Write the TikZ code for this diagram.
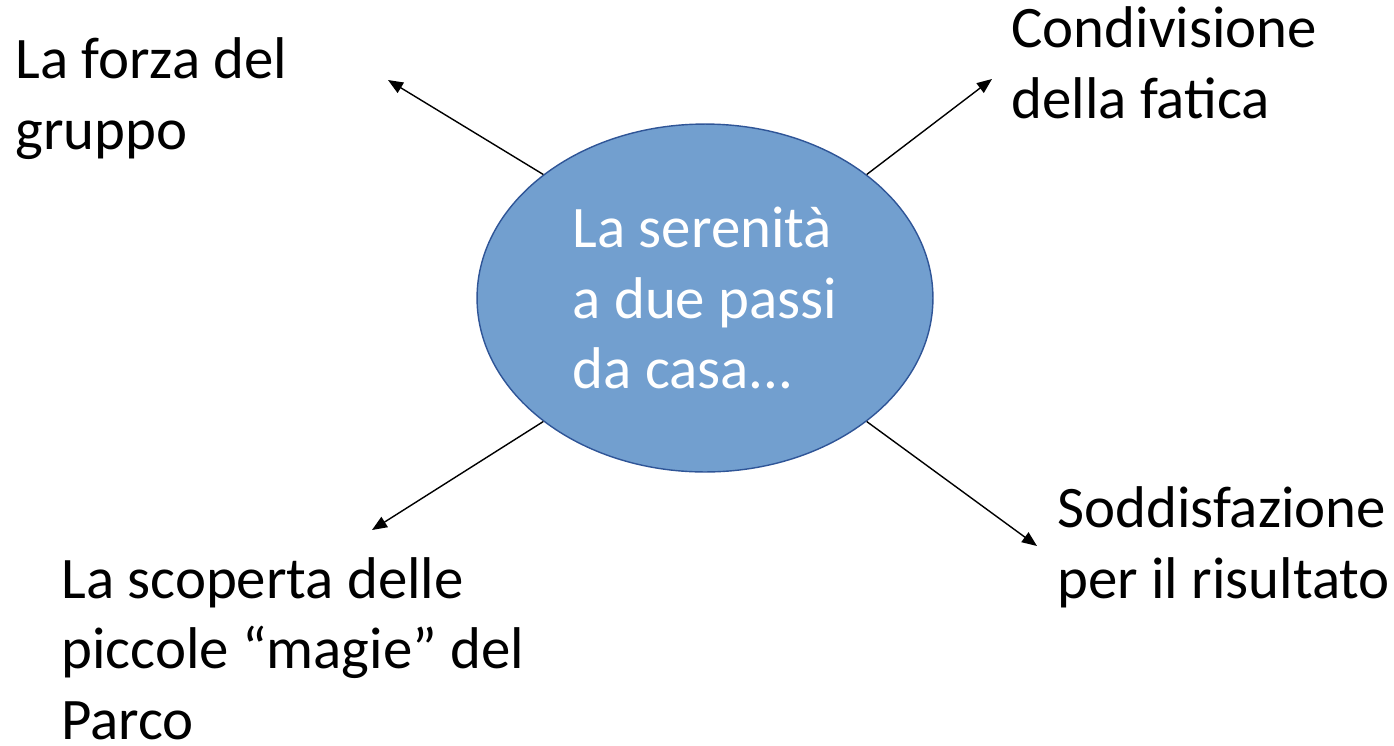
\documentclass[tikz,border=0pt]{standalone}
\usepackage{fontspec}
\setmainfont{Carlito}
\usetikzlibrary{arrows.meta,shapes.geometric}
\definecolor{blobfill}{RGB}{114,159,207}
\definecolor{blobline}{RGB}{47,85,151}
\begin{document}
\begin{tikzpicture}[x=0.02cm,y=-0.02cm,
  labeltext/.style={anchor=base west,align=left,inner sep=0pt,font=\fontsize{33.5}{40}\selectfont},
  blob/.style={ellipse,draw=blobline,fill=blobfill,line width=0.8pt,minimum width=9.12cm,minimum height=6.96cm,inner sep=0pt,align=left,text=white,font=\fontsize{33.5}{40}\selectfont},
  spoke/.style={-{Triangle[length=0.3cm,width=0.24cm]},line width=0.8pt,black}]
\useasboundingbox (0,0) rectangle (1394,745);

% Central ellipse
\node[blob] (serene) at (705,298) {La serenità\\a due passi\\da casa...};

% Surrounding labels (anchored at the last line)
\node[labeltext] (forza) at (15,149) {La forza del\\gruppo};
\node[labeltext] (condiv) at (1011,118) {Condivisione\\della fatica};
\node[labeltext] (soddisf) at (1057,598) {Soddisfazione\\per il risultato};
\node[labeltext] (scoperta) at (61,739) {La scoperta delle\\piccole “magie” del\\Parco};

% Arrow tips
\coordinate (tipforza) at (388,80);
\coordinate (tipcondiv) at (992,79);
\coordinate (tipscoperta) at (372,530);
\coordinate (tipsoddisf) at (1037,546);

% Arrows out of the ellipse
\draw[spoke] (serene.north west) -- (tipforza);
\draw[spoke] (serene.north east) -- (tipcondiv);
\draw[spoke] (serene.south west) -- (tipscoperta);
\draw[spoke] (serene.south east) -- (tipsoddisf);
\end{tikzpicture}
\end{document}
